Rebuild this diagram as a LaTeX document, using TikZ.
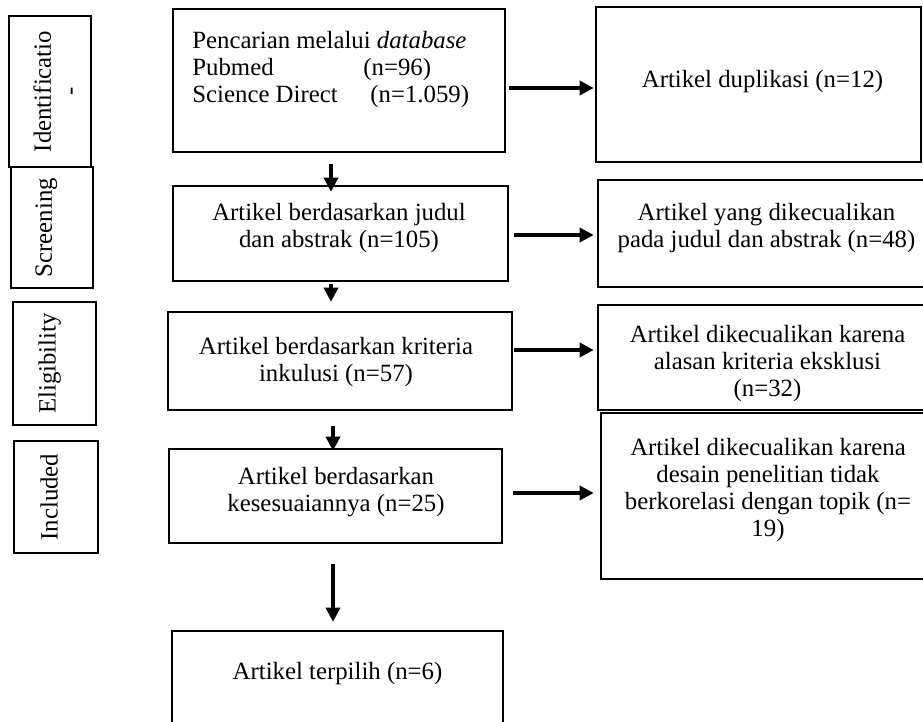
\documentclass[tikz,border=0pt]{standalone}
\usepackage{fontspec}
\setmainfont{Liberation Serif}
\usetikzlibrary{arrows.meta}

\begin{document}
\begin{tikzpicture}[x=0.5pt, y=-0.5pt,
  every node/.style={font=\fontsize{12.4}{13.4}\selectfont},
  box/.style={draw, line width=1.3pt, inner sep=0pt},
  txt/.style={anchor=north, align=center, inner sep=0pt},
  arr/.style={line width=1.8pt, -{Triangle[length=7pt,width=7pt]}}]
  \useasboundingbox (0,0) rectangle (923,722);
  \clip (0,0) rectangle (923,722);

  % stage labels
  \node[box, minimum width=41pt, minimum height=75.5pt] (ident) at (50,91.5) {};
  \node[txt, rotate=90] (identtxt) at (33,91.5) {Identificatio\\-};
  \node[box, minimum width=41pt, minimum height=60.5pt] (screen) at (52,227.5) {};
  \node[txt, rotate=90] (screentxt) at (35,227.5) {Screening};
  \node[box, minimum width=41.5pt, minimum height=61.5pt] (elig) at (54.5,363.5) {};
  \node[txt, rotate=90] (eligtxt) at (38,363.5) {Eligibility};
  \node[box, minimum width=42pt, minimum height=56pt] (incl) at (56,497) {};
  \node[txt, rotate=90] (incltxt) at (40,497) {Included};

  % main column
  \node[box, minimum width=166pt, minimum height=71.5pt] (search) at (339,80.5) {};
  \node[txt, anchor=north west, align=left] (searchtxt) at (192,31)
    {Pencarian melalui \textit{database}\\
     \makebox[85.5pt][l]{Pubmed}(n=96)\\
     \makebox[89pt][l]{Science Direct}(n=1.059)};
  \node[box, minimum width=167.5pt, minimum height=47.5pt] (title) at (340.5,233.5) {};
  \node[txt] (titletxt) at (339,203) {Artikel berdasarkan judul\\dan abstrak (n=105)};
  \node[box, minimum width=172pt, minimum height=49pt] (crit) at (340,361) {};
  \node[txt] (crittxt) at (336,337) {Artikel berdasarkan kriteria\\inkulusi (n=57)};
  \node[box, minimum width=166.5pt, minimum height=47pt] (fit) at (335.5,496) {};
  \node[txt] (fittxt) at (336,467) {Artikel berdasarkan\\kesesuaiannya (n=25)};
  \node[box, minimum width=165.5pt, minimum height=64.5pt] (final) at (337.5,695.5) {};
  \node[txt] (finaltxt) at (337.5,662) {Artikel terpilih (n=6)};

  % excluded column
  \node[box, minimum width=162.5pt, minimum height=77.5pt] (dup) at (758.5,84.5) {};
  \node[txt] (duptxt) at (762.5,70) {Artikel duplikasi (n=12)};
  \node[box, minimum width=168.5pt, minimum height=53.5pt] (excla) at (766.5,233.5) {};
  \node[txt] (exclatxt) at (766.5,203) {Artikel yang dikecualikan\\pada judul dan abstrak (n=48)};
  \node[box, minimum width=169.5pt, minimum height=52.5pt] (exclb) at (767.5,357.5) {};
  \node[txt] (exclbtxt) at (767.5,325) {Artikel dikecualikan karena\\alasan kriteria eksklusi\\(n=32)};
  \node[box, minimum width=168pt, minimum height=83pt] (exclc) at (769,496) {};
  \node[txt] (exclctxt) at (768,438) {Artikel dikecualikan karena\\desain penelitian tidak\\berkorelasi dengan topik (n=\\19)};

  % arrows
  \coordinate (axisa) at (331,0);
  \coordinate (axisb) at (333,0);
  \draw[arr, shorten <=5.5pt, shorten >=-3.5pt] (search.south -| axisa) -- (title.north -| axisa);
  \draw[arr, shorten <=1pt, shorten >=4.5pt] (title.south -| axisa) -- (crit.north -| axisa);
  \draw[arr, shorten <=7.5pt, shorten >=-1.5pt] (crit.south -| axisb) -- (fit.north -| axisb);
  \draw[arr, shorten <=10pt, shorten >=4pt] (fit.south -| axisb) -- (final.north -| axisb);

  \path (search.east) ++(0pt,-3.75pt) coordinate (a1)
        (title.east) ++(0pt,-0.75pt) coordinate (a2)
        (crit.east) ++(0pt,5.5pt) coordinate (a3)
        (fit.east) ++(0pt,1.5pt) coordinate (a4);
  \draw[arr, shorten <=1.5pt, shorten >=0.5pt] (a1) -- (a1 -| dup.west);
  \draw[arr, shorten <=2.5pt, shorten >=1.5pt] (a2) -- (a2 -| excla.west);
  \draw[arr, shorten <=0.5pt, shorten >=1.5pt] (a3) -- (a3 -| exclb.west);
  \draw[arr, shorten <=5pt, shorten >=3pt] (a4) -- (a4 -| exclc.west);
\end{tikzpicture}
\end{document}
